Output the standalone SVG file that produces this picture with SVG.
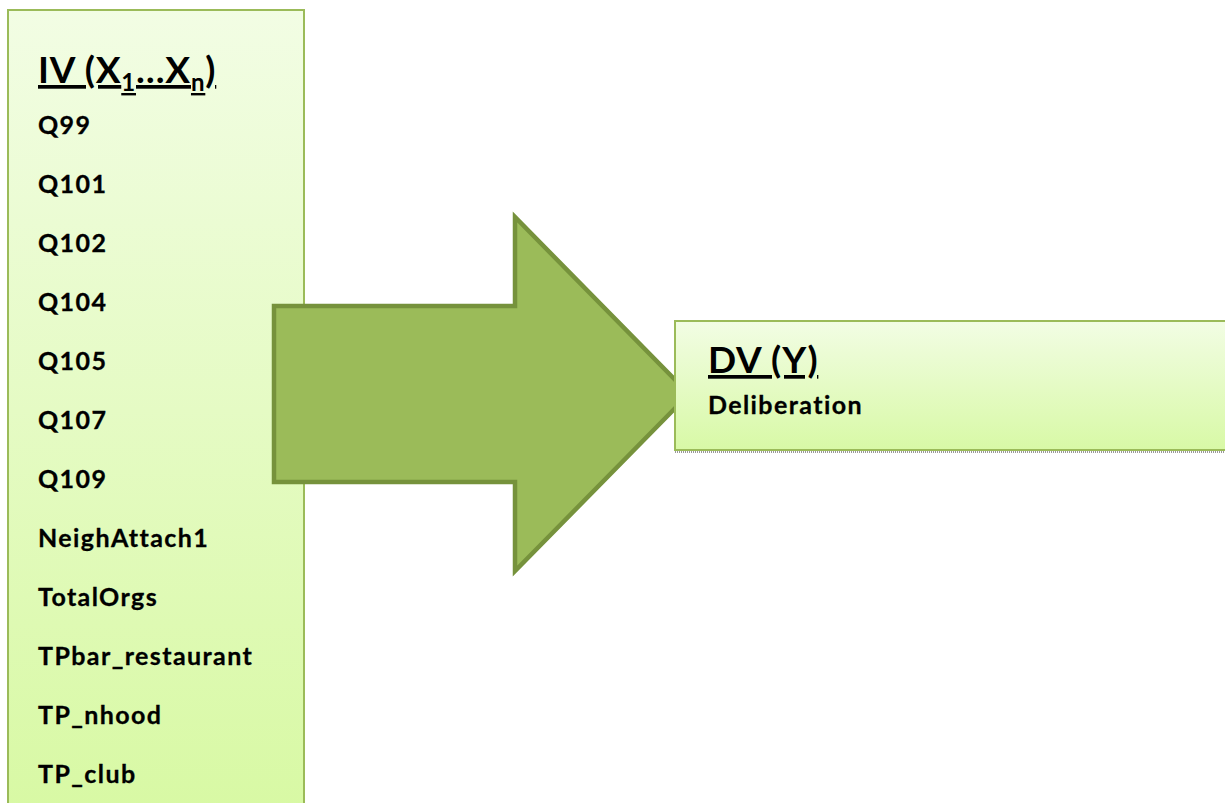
<svg xmlns="http://www.w3.org/2000/svg" width="1225" height="803" viewBox="0 0 1225 803">
<defs>
<linearGradient id="gL" x1="0" y1="0" x2="0" y2="1"><stop offset="0" stop-color="#f2fde4"/><stop offset="1" stop-color="#d8f9a4"/></linearGradient>
<linearGradient id="gR" x1="0" y1="0" x2="0" y2="1"><stop offset="0" stop-color="#f2fde4"/><stop offset="1" stop-color="#d8f9a6"/></linearGradient>
</defs>
<style>
.box{stroke:#9bbb59;stroke-width:2}
.h{font-family:Lato,"Liberation Sans",sans-serif;font-weight:bold;font-size:37px;letter-spacing:0.8px;fill:#000}
.t{font-family:Lato,"Liberation Sans",sans-serif;font-weight:bold;font-size:25px;letter-spacing:1.4px;fill:#000;stroke:#000;stroke-width:0.3px}
</style>
<g id="iv">
<rect class="box" x="8" y="10" width="296" height="800" fill="url(#gL)"/>
<text class="h" x="38" y="83" text-decoration="underline">IV (X<tspan font-size="24" dy="8">1</tspan><tspan dy="-8">…X</tspan><tspan font-size="24" dy="8">n</tspan><tspan dy="-8">)</tspan></text>
<text class="t" x="38" y="134">Q99</text>
<text class="t" x="38" y="193">Q101</text>
<text class="t" x="38" y="252">Q102</text>
<text class="t" x="38" y="311">Q104</text>
<text class="t" x="38" y="370">Q105</text>
<text class="t" x="38" y="429">Q107</text>
<text class="t" x="38" y="488">Q109</text>
<text class="t" x="38" y="547">NeighAttach1</text>
<text class="t" x="38" y="606">TotalOrgs</text>
<text class="t" x="38" y="665">TPbar_restaurant</text>
<text class="t" x="38" y="724">TP_nhood</text>
<text class="t" x="38" y="783">TP_club</text>
</g>
<g id="connectors">
<polygon points="274,306 515,306 515,217 689,394 515,571 515,482 274,482" fill="#9bbb59" stroke="#76923c" stroke-width="4.5"/>
</g>
<g id="dv">
<line x1="675" y1="452" x2="1225" y2="452" stroke="#999" stroke-width="2" stroke-dasharray="1 1"/>
<rect class="box" x="675" y="321" width="560" height="129" fill="url(#gR)"/>
<text class="h" x="708" y="373" text-decoration="underline">DV (Y)</text>
<text class="t" x="708" y="414">Deliberation</text>
</g>
</svg>
